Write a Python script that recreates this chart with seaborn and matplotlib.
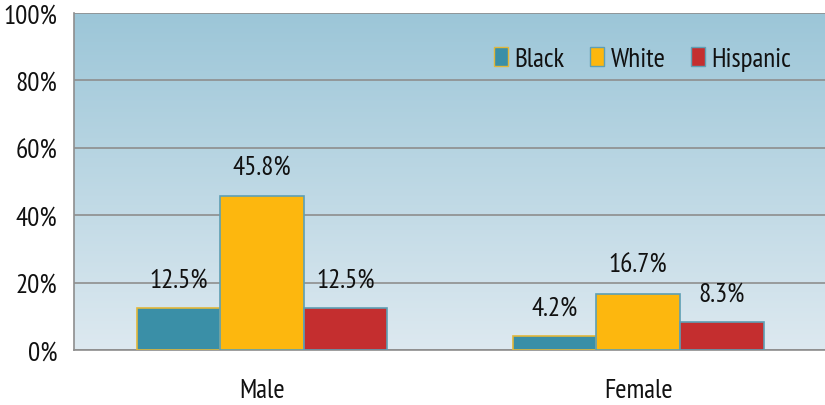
import numpy as np
import pandas as pd
import matplotlib
matplotlib.use("Agg")
import matplotlib.pyplot as plt
from matplotlib.colors import LinearSegmentedColormap
import seaborn as sns

# chart values
genders = ["Male", "Female"]
races = ["Black", "White", "Hispanic"]
black = [12.5, 4.2]
white = [45.8, 16.7]
hispanic = [12.5, 8.3]
ytick_vals = [0, 20, 40, 60, 80, 100]

df = pd.DataFrame({
    "Gender": genders * 3,
    "Race": ["Black"] * 2 + ["White"] * 2 + ["Hispanic"] * 2,
    "Pct": black + white + hispanic,
})

palette = {"Black": "#3A8FA7", "White": "#FDB70E", "Hispanic": "#C42E2F"}
edges = {"Black": "#E2B73A", "White": "#5E9FB4", "Hispanic": "#5E9FB4"}

sns.set_style("white")
plt.rcParams["font.family"] = ["PT Sans Narrow", "Liberation Sans", "DejaVu Sans"]
FS = 19.5

fig = plt.figure(figsize=(8.25, 4.06), dpi=100)
ax = fig.add_axes([74 / 825, 55 / 406, 751 / 825, 337 / 406])

sns.barplot(data=df, x="Gender", y="Pct", hue="Race", order=genders,
            hue_order=races, palette=palette, width=0.667, saturation=1,
            ax=ax, zorder=3)

xmin, xmax = -0.5, 1.497
ax.set_xlim(xmin, xmax)
ax.set_ylim(0, 100)

# gradient background of the plot area
cmap = LinearSegmentedColormap.from_list("bg", ["#DDE9F0", "#9CC6D8"])
grad = np.linspace(0, 1, 256).reshape(-1, 1)
ax.imshow(grad, extent=[xmin, xmax, 0, 100], aspect="auto", cmap=cmap,
          origin="lower", zorder=0)

# bar edges and value labels
for cont, race in zip(ax.containers, races):
    for bar in cont:
        bar.set_edgecolor(edges[race])
        bar.set_linewidth(1.2)
    ax.bar_label(cont, labels=[f"{v:.1f}%" for v in cont.datavalues],
                 padding=12, fontsize=FS, color="#111111")

ax.set_yticks(ytick_vals)
ax.set_yticklabels([f"{v}%" for v in ytick_vals])
ax.yaxis.grid(True, color="#8E8E8E", linewidth=1.2, zorder=1)
ax.set_axisbelow(True)
ax.tick_params(axis="both", labelsize=FS, length=0, colors="#111111")
ax.tick_params(axis="x", pad=20)
ax.tick_params(axis="y", pad=12)
ax.set_xlabel("")
ax.set_ylabel("")

for side in ["top", "right"]:
    ax.spines[side].set_visible(False)
for side in ["left", "bottom"]:
    ax.spines[side].set_color("#8E8E8E")
    ax.spines[side].set_linewidth(1.2)

leg = ax.legend(ncol=3, loc="center right", bbox_to_anchor=(0.955, 0.864),
                frameon=False, fontsize=FS, handlelength=0.5,
                handleheight=0.7, handletextpad=0.25, columnspacing=0.95,
                borderpad=0, borderaxespad=0)
for h, race in zip(leg.legend_handles, races):
    h.set_edgecolor(edges[race])
for t in leg.get_texts():
    t.set_color("#111111")

fig.savefig("out.png", dpi=100)
